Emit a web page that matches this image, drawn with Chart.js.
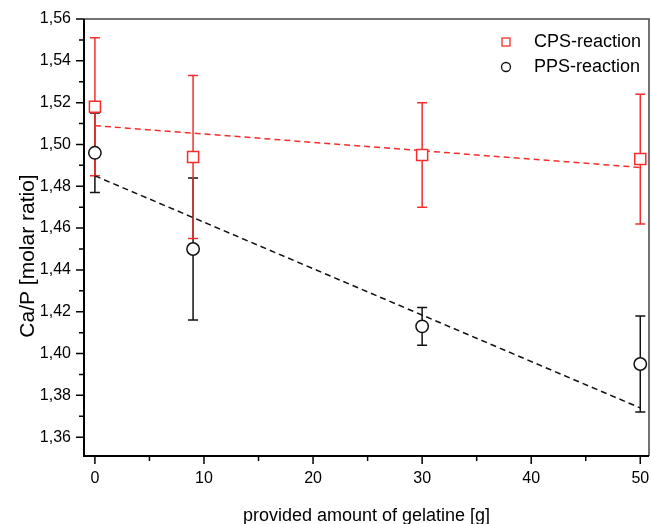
<!DOCTYPE html>
<html lang="en">
<head>
    <meta charset="UTF-8">
    <title>Ca/P molar ratio vs gelatine</title>
    <script src="https://cdn.jsdelivr.net/npm/chart.js"></script>
    <style>
        html, body { margin: 0; padding: 0; background: #fff; }
        #wrap { width: 651px; height: 524px; }
    </style>
</head>
<body>
    <div id="wrap"><canvas id="caChart" width="651" height="524"></canvas></div>

    <script>
        // measured points (x = provided gelatine in g)
        const gelatine = [0, 9, 30, 50];

        const cpsMean = [1.518, 1.494, 1.495, 1.493];
        const cpsLow  = [1.485, 1.455, 1.470, 1.462];
        const cpsHigh = [1.551, 1.533, 1.520, 1.524];

        const ppsMean = [1.496, 1.450, 1.413, 1.395];
        const ppsLow  = [1.477, 1.416, 1.404, 1.372];
        const ppsHigh = [1.515, 1.484, 1.422, 1.418];

        // linear fits (dashed)
        const fitX   = [0, 50];
        const cpsFit = [1.509, 1.489];
        const ppsFit = [1.485, 1.374];

        // axis ticks
        const xMajor = [0, 10, 20, 30, 40, 50];
        const xMinor = [5, 15, 25, 35, 45];
        const yMajor = [1.36, 1.38, 1.40, 1.42, 1.44, 1.46, 1.48, 1.50, 1.52, 1.54, 1.56];
        const yMinor = [1.37, 1.39, 1.41, 1.43, 1.45, 1.47, 1.49, 1.51, 1.53, 1.55];

        const RED = 'rgb(245, 45, 45)';
        const BLACK = '#111';
        const FONT = "'Liberation Sans', Arial, sans-serif";

        const pts = (xs, ys) => xs.map((x, i) => ({ x: x, y: ys[i] }));

        // error bars, frame, ticks, y title and legend drawn with the chart's scales
        const extras = {
            id: 'extras',
            beforeDatasetsDraw(chart) {
                const { ctx, scales: { x, y } } = chart;
                const sets = [[ppsLow, ppsHigh, BLACK], [cpsLow, cpsHigh, RED]];
                ctx.save();
                ctx.lineWidth = 1.5;
                sets.forEach(([lo, hi, col]) => {
                    ctx.strokeStyle = col;
                    gelatine.forEach((g, i) => {
                        const px = x.getPixelForValue(g);
                        const y1 = y.getPixelForValue(lo[i]);
                        const y2 = y.getPixelForValue(hi[i]);
                        ctx.beginPath();
                        ctx.moveTo(px, y1); ctx.lineTo(px, y2);
                        ctx.moveTo(px - 5, y1); ctx.lineTo(px + 5, y1);
                        ctx.moveTo(px - 5, y2); ctx.lineTo(px + 5, y2);
                        ctx.stroke();
                    });
                });
                ctx.restore();
            },
            afterDraw(chart) {
                const { ctx, chartArea: a, scales: { x, y } } = chart;
                ctx.save();
                // frame
                ctx.strokeStyle = '#444';
                ctx.lineWidth = 1.5;
                ctx.beginPath();
                ctx.moveTo(a.left, a.top); ctx.lineTo(a.right, a.top); ctx.lineTo(a.right, a.bottom);
                ctx.stroke();
                ctx.strokeStyle = '#000';
                ctx.lineWidth = 2;
                ctx.beginPath();
                ctx.moveTo(a.left, a.top); ctx.lineTo(a.left, a.bottom); ctx.lineTo(a.right, a.bottom);
                ctx.stroke();
                // ticks (outside)
                ctx.lineWidth = 1.5;
                ctx.beginPath();
                xMajor.forEach(v => { const p = x.getPixelForValue(v); ctx.moveTo(p, a.bottom); ctx.lineTo(p, a.bottom + 8); });
                xMinor.forEach(v => { const p = x.getPixelForValue(v); ctx.moveTo(p, a.bottom); ctx.lineTo(p, a.bottom + 5); });
                yMajor.forEach(v => { const p = y.getPixelForValue(v); ctx.moveTo(a.left, p); ctx.lineTo(a.left - 8, p); });
                yMinor.forEach(v => { const p = y.getPixelForValue(v); ctx.moveTo(a.left, p); ctx.lineTo(a.left - 5, p); });
                ctx.stroke();

                // y axis title (sits a bit below the axis centre in the original)
                ctx.fillStyle = '#000';
                ctx.font = '21px ' + FONT;
                ctx.textAlign = 'center';
                ctx.textBaseline = 'middle';
                ctx.translate(28, 256);
                ctx.rotate(-Math.PI / 2);
                ctx.fillText('Ca/P [molar ratio]', 0, 0);
                ctx.setTransform(1, 0, 0, 1, 0, 0);

                // legend
                ctx.font = '18px ' + FONT;
                ctx.textAlign = 'left';
                ctx.lineWidth = 1.3;
                ctx.strokeStyle = RED;
                ctx.strokeRect(502, 38, 8, 8);
                ctx.fillText('CPS-reaction', 534, 42);
                ctx.strokeStyle = BLACK;
                ctx.beginPath();
                ctx.arc(506, 67, 4.5, 0, Math.PI * 2);
                ctx.stroke();
                ctx.fillText('PPS-reaction', 534, 67);
                ctx.restore();
            }
        };

        const ctx = document.getElementById('caChart').getContext('2d');
        const caChart = new Chart(ctx, {
            type: 'scatter',
            data: {
                datasets: [
                    {
                        label: 'CPS fit',
                        type: 'line',
                        data: pts(fitX, cpsFit),
                        borderColor: RED,
                        borderWidth: 1.5,
                        borderDash: [6, 4],
                        pointRadius: 0,
                        fill: false,
                        order: 3
                    },
                    {
                        label: 'PPS fit',
                        type: 'line',
                        data: pts(fitX, ppsFit),
                        borderColor: BLACK,
                        borderWidth: 1.5,
                        borderDash: [6, 4],
                        pointRadius: 0,
                        fill: false,
                        order: 4
                    },
                    {
                        label: 'PPS-reaction',
                        data: pts(gelatine, ppsMean),
                        pointStyle: 'circle',
                        pointRadius: 6.2,
                        borderColor: BLACK,
                        backgroundColor: '#fff',
                        borderWidth: 1.5,
                        order: 2
                    },
                    {
                        label: 'CPS-reaction',
                        data: pts(gelatine, cpsMean),
                        pointStyle: 'rect',
                        pointRadius: 7.8,
                        borderColor: RED,
                        backgroundColor: '#fff',
                        borderWidth: 1.5,
                        order: 1
                    }
                ]
            },
            options: {
                responsive: false,
                animation: false,
                layout: { autoPadding: false, padding: { top: 19, right: 2, left: 0, bottom: 0 } },
                plugins: {
                    legend: { display: false },
                    tooltip: { enabled: false }
                },
                scales: {
                    x: {
                        type: 'linear',
                        min: -1,
                        max: 50.8,
                        afterFit: s => { s.height = 68; s.paddingLeft = 0; s.paddingRight = 0; },
                        afterBuildTicks: s => { s.ticks = xMajor.map(v => ({ value: v })); },
                        grid: { display: true, drawOnChartArea: false, color: 'transparent', tickLength: 8 },
                        border: { display: false },
                        ticks: {
                            autoSkip: false,
                            maxRotation: 0,
                            padding: 5,
                            color: '#000',
                            font: { family: FONT, size: 16 }
                        },
                        title: {
                            display: true,
                            text: 'provided amount of gelatine [g]',
                            color: '#000',
                            font: { family: FONT, size: 18, lineHeight: 1 },
                            padding: { top: 0, bottom: -1 }
                        }
                    },
                    y: {
                        min: 1.351,
                        max: 1.56,
                        afterFit: s => { s.width = 84; s.paddingTop = 0; s.paddingBottom = 0; },
                        afterBuildTicks: s => { s.ticks = yMajor.map(v => ({ value: v })); },
                        grid: { display: true, drawOnChartArea: false, color: 'transparent', tickLength: 8 },
                        border: { display: false },
                        ticks: {
                            autoSkip: false,
                            padding: 5,
                            color: '#000',
                            font: { family: FONT, size: 16 },
                            callback: v => v.toFixed(2).replace('.', ',')
                        }
                    }
                }
            },
            plugins: [extras]
        });
    </script>
</body>
</html>
